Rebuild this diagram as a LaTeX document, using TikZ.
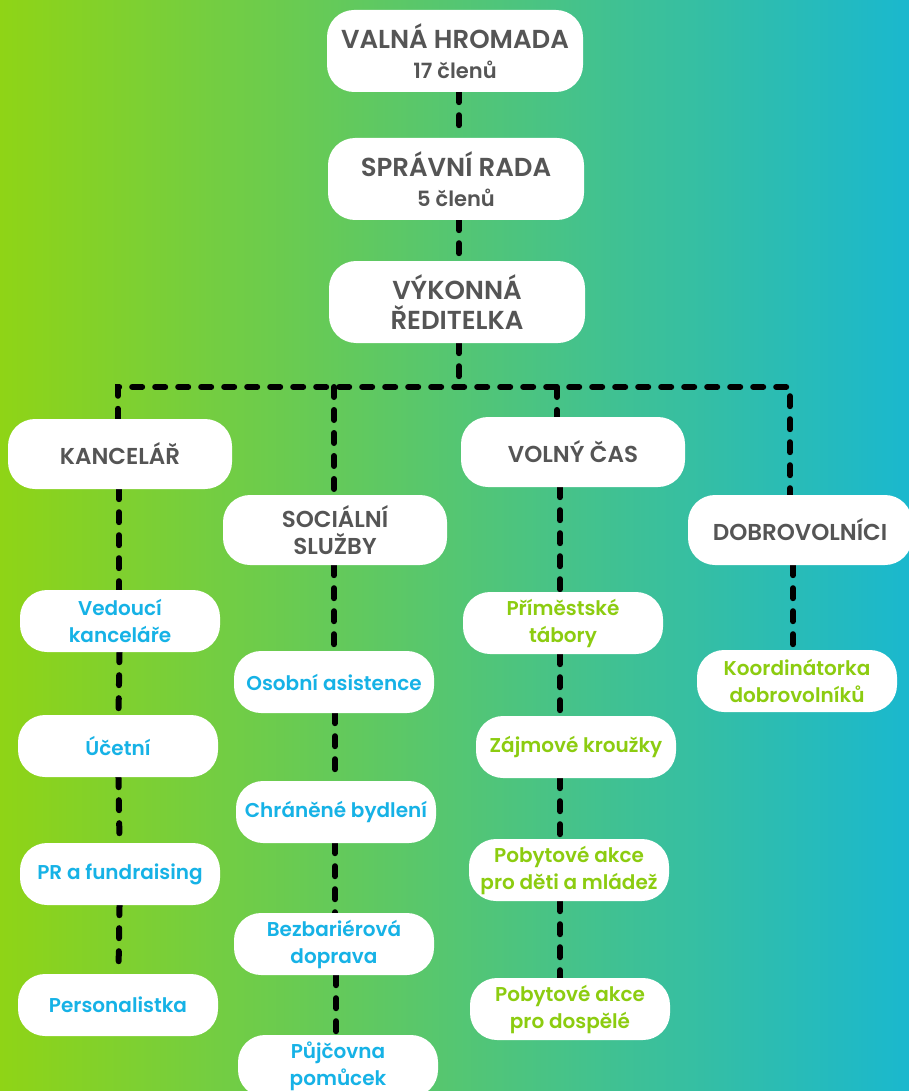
\documentclass[tikz,border=0pt]{standalone}
\usepackage{fontspec}
\IfFontExistsTF{Poppins SemiBold}
  {\newfontfamily\orgfont{Poppins SemiBold}}
  {\newfontfamily\orgfont{Poppins}[UprightFont=*-Bold]}
\usepackage{tikz}
\usetikzlibrary{calc,positioning}
\pgfdeclarelayer{background}
\pgfdeclarelayer{lines}
\pgfsetlayers{background,lines,main}
\definecolor{bgleft}{RGB}{143,212,22}
\definecolor{bgmid}{RGB}{84,199,104}
\definecolor{bgright}{RGB}{26,184,206}
\definecolor{textgray}{RGB}{85,85,85}
\definecolor{jobblue}{RGB}{22,178,230}
\definecolor{jobgreen}{RGB}{140,204,16}
\tikzset{
    blob/.style={
        rectangle,
        rounded corners=27pt,
        fill=white,
        align=center,
        inner sep=0pt
    },
    head/.style={
        blob,
        text=textgray,
        font={\orgfont\fontsize{26}{30}\selectfont},
        minimum width=256pt,
        minimum height=82pt
    },
    dept/.style={
        blob,
        text=textgray,
        font={\orgfont\fontsize{23}{27}\selectfont},
        minimum width=224pt,
        minimum height=70pt
    },
    bluejob/.style={
        blob,
        text=jobblue,
        font={\orgfont\fontsize{20}{27}\selectfont},
        minimum width=200pt,
        minimum height=62pt
    },
    greenjob/.style={bluejob, text=jobgreen},
    link/.style={draw, line width=6pt, dash pattern=on 10pt off 13pt, line cap=round},
    members/.style={font={\orgfont\fontsize{21}{24}\selectfont}},
}

\begin{document}
\begin{tikzpicture}[x=1pt,y=-1pt]
\begin{pgfonlayer}{background}
\shade[left color=bgleft, middle color=bgmid, right color=bgright]
    (0,0) rectangle (909,1091);
\end{pgfonlayer}
\useasboundingbox (0,0) rectangle (909,1091);

% vedeni
\node[head] (valna) at (455,51) {VALNÁ HROMADA\\{\fontsize{21}{24}\selectfont 17 členů}};
\node[head] (sprava) at (456,179) {SPRÁVNÍ RADA\\{\fontsize{21}{24}\selectfont 5 členů}};
\node[head] (reditelka) at (457,302) {VÝKONNÁ\\ŘEDITELKA};
\coordinate (bus) at (459,387);

% useky
\node[dept] (kancelar) at (120,454) {KANCELÁŘ};
\node[dept] (socialni) at (335,530) {SOCIÁLNÍ\\SLUŽBY};
\node[dept] (volny) at (573,452) {VOLNÝ ČAS};
\node[dept] (dobro) at (800,530) {DOBROVOLNÍCI};

% kancelar
\node[bluejob] (vedouci) at (120,621) {Vedoucí\\kanceláře};
\node[bluejob] (ucetni) at (118,746) {Účetní};
\node[bluejob] (pr) at (120,874) {PR a fundraising};
\node[bluejob] (personal) at (118,1005) {Personalistka};

% socialni sluzby
\node[bluejob] (asistence) at (334,682) {Osobní asistence};
\node[bluejob] (bydleni) at (336,812) {Chráněné bydlení};
\node[bluejob] (doprava) at (334,944) {Bezbariérová\\doprava};
\node[bluejob] (pujcovna) at (338,1066) {Půjčovna\\pomůcek};

% volny cas
\node[greenjob] (tabory) at (563,623) {Příměstské\\tábory};
\node[greenjob] (krouzky) at (576,747) {Zájmové kroužky};
\node[greenjob] (deti) at (569,870) {Pobytové akce\\pro děti a mládež};
\node[greenjob] (dospeli) at (570,1009) {Pobytové akce\\pro dospělé};

% dobrovolnici
\node[greenjob] (koord) at (797,681) {Koordinátorka\\dobrovolníků};

\begin{pgfonlayer}{lines}
\path[link] (valna.south -| bus) -- (sprava.north -| bus);
\path[link] (sprava.south -| bus) -- (reditelka.north -| bus);
\path[link] (reditelka.south -| bus) -- (bus);
\path[link] (kancelar.north -| 118,0) |- (bus) -| (dobro.north -| 790,0);
\path[link] (bus -| 334,0) -- (socialni.north -| 334,0);
\path[link] (bus -| 557,0) -- (volny.north -| 557,0);
\path[link] (kancelar.south -| 119,0) -- (vedouci.north -| 119,0);
\path[link] (vedouci) -- (ucetni);
\path[link] (ucetni) -- (pr);
\path[link] (pr) -- (personal);
\path[link] (socialni.south -| 334,0) -- (asistence.north -| 334,0);
\path[link] (asistence.south -| 335,0) -- (bydleni.north -| 335,0);
\path[link] (bydleni.south -| 335,0) -- (doprava.north -| 335,0);
\path[link] (doprava.south -| 336,0) -- (pujcovna.north -| 336,0);
\path[link] (volny.south -| 560,0) -- (tabory.north -| 560,0);
\path[link] (tabory.south -| 560,0) -- (krouzky.north -| 560,0);
\path[link] (krouzky.south -| 560,0) -- (deti.north -| 560,0);
\path[link] (deti.south -| 560,0) -- (dospeli.north -| 560,0);
\path[link] (dobro.south -| 793,0) -- (koord.north -| 793,0);
\end{pgfonlayer}
\end{tikzpicture}
\end{document}
